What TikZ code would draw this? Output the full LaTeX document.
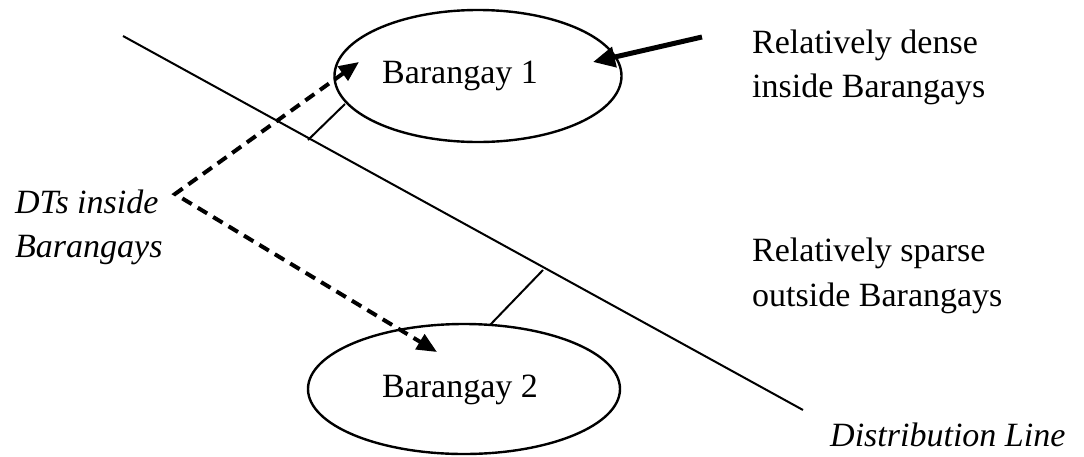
\documentclass[tikz,border=0pt]{standalone}
\usepackage{fontspec}
\setmainfont{Liberation Serif}
\usetikzlibrary{shapes.geometric,arrows.meta}
\begin{document}
\begin{tikzpicture}[x=1pt,y=-1pt,
  lbl/.style={font=\fontsize{34}{40}\selectfont, inner sep=0pt, anchor=base west},
  lblc/.style={font=\fontsize{34}{40}\selectfont, inner sep=0pt, anchor=base},
  itl/.style={font=\fontsize{34}{40}\selectfont\itshape, inner sep=0pt, anchor=base west},
  region/.style={ellipse, draw, line width=2.4pt, inner sep=0pt},
  wire/.style={line width=2pt},
  dtarrow/.style={line width=4pt, dash pattern=on 11pt off 7pt, line join=miter,
     {Triangle[length=20pt,width=17pt]}-{Triangle[length=20pt,width=17pt]}},
  denarrow/.style={line width=5pt, -{Triangle[length=22pt,width=20pt]}}
]
\useasboundingbox (0,0) rectangle (1084,456);
% regions
\node[region, minimum width=287pt, minimum height=132pt] (b1) at (478,76) {};
\node[region, minimum width=312pt, minimum height=130pt] (b2) at (464,389) {};
\node[lblc] (b1l) at (460,83) {Barangay 1};
\node[lblc] (b2l) at (460,397) {Barangay 2};
% distribution line
\coordinate (ds) at (123,36);
\coordinate (de) at (803,410);
\draw[wire] (ds) -- (de);
\coordinate (t1a) at (308,140);
\coordinate (t1b) at (345,104);
\coordinate (t2a) at (543,270);
\coordinate (t2b) at (490,325);
\draw[wire] (t1a) -- (t1b);
\draw[wire] (t2a) -- (t2b);
% labels
\node[lbl] (dense1) at (752,53) {Relatively dense};
\node[lbl] (dense2) at (752,97) {inside Barangays};
\node[lbl] (sparse1) at (752,261) {Relatively sparse};
\node[lbl] (sparse2) at (752,306) {outside Barangays};
\node[itl] (dt1) at (15,213) {DTs inside};
\node[itl] (dt2) at (15,257) {Barangays};
\node[itl] (dl) at (830,446) {Distribution Line};
% arrows
\coordinate (v) at (175,194);
\coordinate (tip1) at (359,62);
\coordinate (tip2) at (437,352);
\draw[dtarrow] (tip1) -- (v) -- (tip2);
\coordinate (dtail) at (702,37);
\coordinate (dtip) at (593,62);
\draw[denarrow] (dtail) -- (dtip);
\end{tikzpicture}
\end{document}
